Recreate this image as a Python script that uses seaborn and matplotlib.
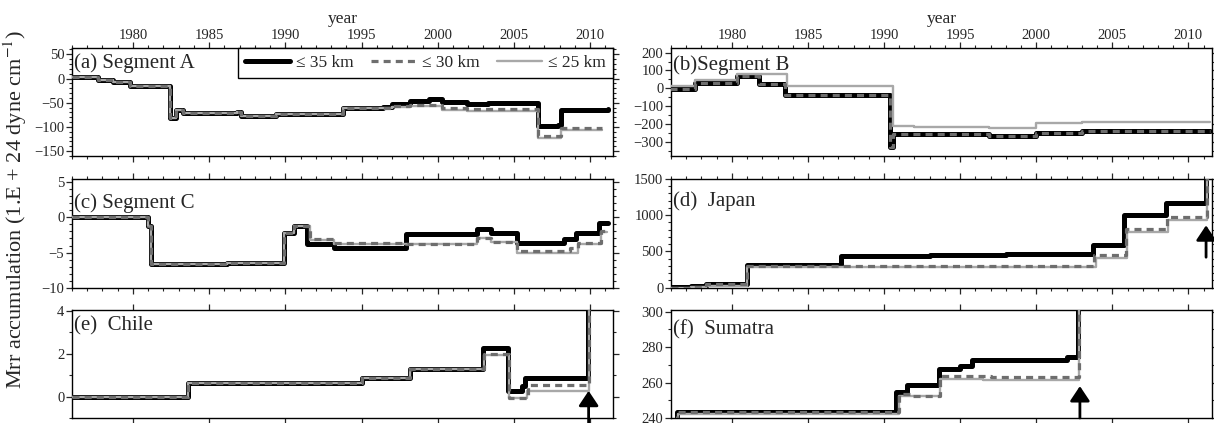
import matplotlib
matplotlib.use('Agg')
import matplotlib.pyplot as plt
from matplotlib.ticker import MultipleLocator, NullLocator
import seaborn as sns

# ---- data: step series (year of change, accumulated value after change) ----
# (a) Segment A
a_early_yr = [1976.0, 1977.7, 1978.7, 1979.8, 1982.4, 1982.8, 1983.3, 1986.8, 1987.1, 1989.4, 1993.8]
a_early_val = [3, -3, -8, -15, -81, -66, -71, -70, -77, -74, -61]
a35_yr = [1996.4, 1997.0, 1998.2, 1999.4, 2000.3, 2001.9, 2003.3, 2006.6, 2007.9, 2008.1, 2011.2]
a35_val = [-59, -53, -46, -43, -48, -52, -50, -99, -95, -64, -63]
a30_yr = [1996.4, 1997.0, 1998.2, 2000.3, 2001.9, 2006.6, 2008.1, 2010.8]
a30_val = [-60, -57, -54, -60, -63, -118, -102, -102]
a25_yr = [1996.4, 1997.0, 1998.2, 2000.3, 2001.9, 2006.6, 2008.1, 2010.8]
a25_val = [-61, -59, -56, -64, -67, -123, -107, -107]

# (b) Segment B
b35_yr = [1975.95, 1977.6, 1980.35, 1981.8, 1983.5, 1990.4, 1990.6, 1996.9, 2000.0, 2003.0, 2011.4]
b35_val = [-2, 30, 68, 22, -38, -330, -258, -266, -250, -242, -242]
b30_yr = b35_yr
b30_val = b35_val
b25_yr = [1975.95, 1977.6, 1980.35, 1983.6, 1990.6, 1992.0, 1996.9, 2000.0, 2003.0, 2011.4]
b25_val = [10, 45, 78, 15, -210, -218, -222, -197, -190, -190]

# (c) Segment C
c_early_yr = [1976.0, 1981.0, 1981.2, 1986.2, 1989.9, 1990.6]
c_early_val = [0.1, -1.3, -6.6, -6.5, -2.2, -1.3]
c35_yr = [1991.45, 1993.2, 1997.9, 2002.6, 2003.5, 2005.2, 2008.3, 2009.1, 2010.6, 2011.2]
c35_val = [-3.8, -4.4, -2.4, -1.6, -2.2, -3.6, -3.1, -2.3, -0.8, -0.8]
c30_yr = [1991.6, 1993.2, 1997.9, 2002.6, 2003.5, 2005.2, 2008.7, 2009.2, 2010.7, 2011.1]
c30_val = [-3.1, -3.7, -3.8, -3.0, -3.5, -4.8, -4.4, -3.7, -2.0, -2.0]
c25_yr = [1991.6, 1993.2, 1997.9, 2002.6, 2003.5, 2005.2, 2009.2, 2010.7, 2011.1]
c25_val = [-3.2, -3.8, -3.8, -3.0, -3.5, -5.0, -3.8, -2.1, -2.1]

# (d) Japan
d35_yr = [1976.0, 1977.3, 1978.3, 1981.0, 1987.2, 1993.0, 1998.0, 2003.7, 2005.8, 2008.5, 2011.16, 2011.4]
d35_val = [5, 20, 55, 310, 440, 450, 458, 595, 1000, 1165, 3000, 3000]
d30_yr = [1976.0, 1977.3, 1978.3, 1981.0, 2003.8, 2005.9, 2008.6, 2011.22, 2011.4]
d30_val = [0, 15, 45, 305, 445, 810, 970, 3000, 3000]
d25_yr = [1976.0, 1977.3, 1978.3, 1981.0, 2003.9, 2005.95, 2008.65, 2011.25, 2011.4]
d25_val = [-5, 5, 25, 280, 410, 770, 940, 3000, 3000]

# (e) Chile
e_early_yr = [1976.0, 1983.6, 1995.0, 1998.2]
e_early_val = [0.0, 0.65, 0.85, 1.3]
e35_yr = [2002.95, 2004.6, 2005.5, 2005.75, 2009.86, 2011.3]
e35_val = [2.25, 0.25, 0.5, 0.87, 10, 10]
e30_yr = [2003.05, 2004.65, 2005.9, 2009.9, 2011.3]
e30_val = [2.0, -0.05, 0.56, 10, 10]
e25_yr = [2003.05, 2004.65, 2005.85, 2009.92, 2011.3]
e25_val = [1.95, -0.08, 0.28, 10, 10]

# (f) Sumatra
f35_yr = [1976.3, 1976.4, 1990.8, 1991.5, 1993.6, 1995.0, 1995.8, 2002.05, 2002.75, 2011.4]
f35_val = [238, 243.4, 254.7, 258.5, 267.9, 269.6, 273, 274.3, 400, 400]
f30_yr = [1976.3, 1976.4, 1990.95, 1991.75, 1993.7, 1997.0, 2002.8, 2011.4]
f30_val = [238, 243.4, 253.6, 252.7, 264, 263.3, 400, 400]
f25_yr = [1976.3, 1976.45, 1991.0, 1993.7, 1996.5, 2002.8, 2011.4]
f25_val = [238, 242.3, 252.2, 262.2, 261.3, 400, 400]

# arrows marking the great earthquakes: (year, tail, head)
arrow_d = (2011.16, 420, 860)
arrow_e = (2009.9, -1.5, 0.27)
arrow_f = (2002.87, 240, 258)

titles = ['(a) Segment A', '(b)Segment B', '(c) Segment C',
          '(d)  Japan', '(e)  Chile', '(f)  Sumatra']
legend_labels = ['\u2264 35 km', '\u2264 30 km', '\u2264 25 km']

# ---- style ----
SERIF = ['Liberation Serif', 'DejaVu Serif']
sns.set_style('ticks')
plt.rcParams['font.family'] = SERIF
plt.rcParams['mathtext.fontset'] = 'stix'
plt.rcParams['axes.linewidth'] = 1.0
plt.rcParams['xtick.direction'] = 'out'
plt.rcParams['ytick.direction'] = 'out'

C35 = 'black'
C30 = '#6e6e6e'
C25 = '#a8a8a8'

fig = plt.figure(figsize=(12.14, 4.23), dpi=100)

L0, R0, W = 72 / 1214, 671 / 1214, 541 / 1214
rows = [(1 - 156 / 423, 108 / 423), (1 - 288 / 423, 109 / 423), (1 - 418 / 423, 108 / 423)]

series = [
    (a_early_yr + a35_yr, a_early_val + a35_val, a_early_yr + a30_yr, a_early_val + a30_val,
     a_early_yr + a25_yr, a_early_val + a25_val),
    (b35_yr, b35_val, b30_yr, b30_val, b25_yr, b25_val),
    (c_early_yr + c35_yr, c_early_val + c35_val, c_early_yr + c30_yr, c_early_val + c30_val,
     c_early_yr + c25_yr, c_early_val + c25_val),
    (d35_yr, d35_val, d30_yr, d30_val, d25_yr, d25_val),
    (e_early_yr + e35_yr, e_early_val + e35_val, e_early_yr + e30_yr, e_early_val + e30_val,
     e_early_yr + e25_yr, e_early_val + e25_val),
    (f35_yr, f35_val, f30_yr, f30_val, f25_yr, f25_val),
]

ylims = [(-160, 63), (-380, 226), (-10, 5.4), (-5, 1500), (-1, 4.05), (240, 301)]
ymajor = [50, 100, 5, 500, 2, 20]
yminor = [10, 50, 1, 100, 1, 10]
title_y = [0.86, 0.84, 0.78, 0.80, 0.85, 0.82]
arrows = {3: arrow_d, 4: arrow_e, 5: arrow_f}

axes = []
for i in range(6):
    col = i % 2
    row = i // 2
    b, h = rows[row]
    ax = fig.add_axes([L0 if col == 0 else R0, b, W, h])
    axes.append(ax)
    x35, y35, x30, y30, x25, y25 = series[i]

    sns.lineplot(x=x35, y=y35, ax=ax, color=C35, lw=3.6, drawstyle='steps-post',
                 estimator=None, sort=False, legend=False, label=legend_labels[0], zorder=2)
    sns.lineplot(x=x25, y=y25, ax=ax, color=C25, lw=1.7, drawstyle='steps-post',
                 estimator=None, sort=False, legend=False, label=legend_labels[2], zorder=3)
    sns.lineplot(x=x30, y=y30, ax=ax, color=C30, lw=2.3, drawstyle='steps-post',
                 linestyle=(0, (2.2, 1.6)), estimator=None, sort=False, legend=False,
                 label=legend_labels[1], zorder=4)

    ax.set_xlim(1976.0, 2011.5 if col == 0 else 2011.55)
    ax.set_ylim(*ylims[i])
    ax.set_xlabel('')
    ax.set_ylabel('')
    ax.xaxis.set_major_locator(MultipleLocator(5))
    if row < 2:
        ax.xaxis.set_minor_locator(MultipleLocator(1))
    else:
        ax.xaxis.set_minor_locator(NullLocator())
    ax.yaxis.set_major_locator(MultipleLocator(ymajor[i]))
    ax.yaxis.set_minor_locator(MultipleLocator(yminor[i]))
    ax.tick_params(axis='both', which='major', length=4, width=0.9, labelsize=10.5, pad=1.5)
    ax.tick_params(axis='x', which='major', pad=0.5)
    ax.tick_params(axis='both', which='minor', length=2.2, width=0.8)
    ax.tick_params(axis='x', which='both', top=True, bottom=True,
                   labeltop=(row == 0), labelbottom=False)
    ax.tick_params(axis='y', which='both', right=True, labelright=False)
    for s in ax.spines.values():
        s.set_visible(True)
        s.set_linewidth(1.0)
        s.set_color('black')
    if row == 0:
        ax.xaxis.set_label_position('top')
        ax.set_xlabel('year', fontsize=12.5, labelpad=4)

    ax.text(0.004, title_y[i], titles[i], transform=ax.transAxes, fontsize=15,
            va='center', ha='left', zorder=6)

    if i in arrows:
        ax_x, tail, head = arrows[i]
        ax.annotate('', xy=(ax_x, head), xytext=(ax_x, tail),
                    arrowprops=dict(arrowstyle='-|>,head_length=0.45,head_width=0.3',
                                    lw=2.0, color='black', shrinkA=0, shrinkB=0,
                                    mutation_scale=20),
                    annotation_clip=False, zorder=7)

# legend in panel (a)
ax = axes[0]
h = ax.get_lines()[:3]
handles = [h[0], h[2], h[1]]
leg = ax.legend(handles=handles, labels=legend_labels, loc='upper right',
                bbox_to_anchor=(1.0, 1.0), borderaxespad=0, ncol=3, fontsize=12.5,
                frameon=True, fancybox=False, framealpha=1, edgecolor='black',
                handlelength=2.6, handletextpad=0.35, columnspacing=1.0, borderpad=0.4)
leg.get_frame().set_linewidth(1.0)
leg.set_zorder(8)

fig.text(0.0125, 0.505, 'Mrr accumulation (1.E + 24 dyne cm$^{-1}$)', rotation=90,
         va='center', ha='center', fontsize=16)

plt.savefig('out.png', dpi=100)
